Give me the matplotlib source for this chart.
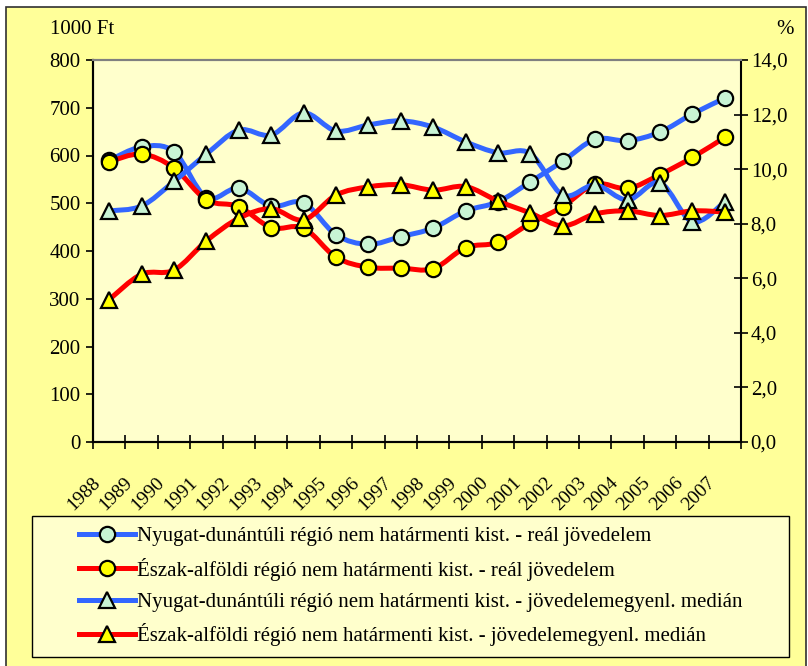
import numpy as np
import matplotlib
matplotlib.use("Agg")
import matplotlib.pyplot as plt
from matplotlib.path import Path
from matplotlib.patches import PathPatch, Rectangle
from matplotlib.lines import Line2D
from matplotlib import transforms

plt.rcParams['font.family'] = ['Liberation Serif', 'DejaVu Serif']

years = [str(y) for y in range(1988, 2008)]
# 1000 Ft, left axis
nyd_real = [590, 618, 608, 512, 532, 494, 501, 434, 414, 430,
            448, 484, 503, 545, 588, 634, 631, 649, 687, 720]
ea_real = [587, 603, 574, 507, 493, 449, 448, 387, 366, 364,
           363, 407, 418, 458, 493, 540, 531, 560, 596, 638]
# %, right axis
nyd_med = [8.47, 8.65, 9.55, 10.55, 11.43, 11.25, 12.06, 11.40, 11.62, 11.77,
           11.54, 11.0, 10.6, 10.57, 9.05, 9.42, 8.87, 9.5, 8.07, 8.8]
ea_med = [5.22, 6.15, 6.3, 7.37, 8.2, 8.55, 8.14, 9.05, 9.35, 9.43,
          9.23, 9.36, 8.83, 8.39, 7.92, 8.36, 8.47, 8.3, 8.47, 8.43]

labels = [
    "Nyugat-dunántúli régió nem határmenti kist. - reál jövedelem",
    "Észak-alföldi régió nem határmenti kist. - reál jövedelem",
    "Nyugat-dunántúli régió nem határmenti kist. - jövedelemegyenl. medián",
    "Észak-alföldi régió nem határmenti kist. - jövedelemegyenl. medián",
]

BLUE = '#3366FF'
RED = '#FF0000'
MINT = '#C8F4D4'
YELLOW = '#FFFF00'
FS = 15


def smooth_path(xs, ys):
    # cubic bezier through the points (catmull-rom style control points)
    xs = np.asarray(xs, float)
    ys = np.asarray(ys, float)
    pts = np.column_stack([xs, ys])
    verts = [pts[0]]
    codes = [Path.MOVETO]
    n = len(pts)
    for i in range(n - 1):
        p0 = pts[max(i - 1, 0)]
        p1 = pts[i]
        p2 = pts[i + 1]
        p3 = pts[min(i + 2, n - 1)]
        c1 = p1 + (p2 - p0) / 6.0
        c2 = p2 - (p3 - p1) / 6.0
        verts += [c1, c2, p2]
        codes += [Path.CURVE4] * 3
    return Path(verts, codes)


W, H = 808, 666
fig = plt.figure(figsize=(W / 100, H / 100), dpi=100, facecolor='white')
fig.patches.append(Rectangle((6 / W, -0.01), 800 / W, 1 - 7 / H + 0.01,
                             transform=fig.transFigure, facecolor='#FFFF99',
                             edgecolor='#303030', linewidth=1.2, zorder=-10))
# legend box
fig.patches.append(Rectangle((32 / W, 1 - 657 / H), 757 / W, 141 / H,
                             transform=fig.transFigure, facecolor='#FFFFCC',
                             edgecolor='black', linewidth=1.0, zorder=-5))

ax = fig.add_axes([93 / W, 1 - 442 / H, 648 / W, 382 / H])
ax.set_facecolor('#FFFFCC')
ax2 = ax.twinx()
ax2.patch.set_visible(False)

x = np.arange(len(years))
series = [
    (ax, nyd_real, BLUE, 'o', MINT),
    (ax, ea_real, RED, 'o', YELLOW),
    (ax2, nyd_med, BLUE, '^', MINT),
    (ax2, ea_med, RED, '^', YELLOW),
]
handles = []
for a, ys, col, mk, fc in series:
    a.add_patch(PathPatch(smooth_path(x, ys), facecolor='none', edgecolor=col,
                          linewidth=3.6, capstyle='round', joinstyle='round'))
    ms = 11 if mk == 'o' else 12
    a.plot(x, ys, linestyle='none', marker=mk, markersize=ms,
           markerfacecolor=fc, markeredgecolor='black', markeredgewidth=1.6)
    handles.append(Line2D([], [], color=col, linewidth=3.6, marker=mk,
                          markersize=ms, markerfacecolor=fc,
                          markeredgecolor='black', markeredgewidth=1.6))

ax.set_xlim(-0.5, len(years) - 0.5)
ax.set_ylim(0, 800)
ax2.set_ylim(0, 14)

ax.set_yticks(np.arange(0, 801, 100))
ax.tick_params(axis='y', direction='out', length=5, width=1.2, labelsize=FS, pad=4)
ax2.set_yticks(np.arange(0, 14.1, 2))
ax2.set_yticklabels([f"{v:.1f}".replace('.', ',') for v in np.arange(0, 14.1, 2)])
ax2.tick_params(axis='y', direction='inout', length=10, width=1.2, labelsize=FS, pad=2)

# ticks on category boundaries, year labels drawn separately
ax.set_xticks(np.arange(-0.5, len(years), 1.0))
ax.set_xticklabels([])
ax.tick_params(axis='x', direction='inout', length=10, width=1.2)
lab_tr = ax.get_xaxis_transform() + transforms.ScaledTranslation(
    -0.18, -0.32, fig.dpi_scale_trans)
for i, yr in enumerate(years):
    ax.text(i, 0, yr, transform=lab_tr, fontsize=14, rotation=45,
            rotation_mode='anchor', ha='right', va='top', clip_on=False)

for a in (ax, ax2):
    a.spines['top'].set_color('#808080')
    a.spines['top'].set_linewidth(1.5)
    a.spines['left'].set_linewidth(1.5)
    a.spines['bottom'].set_linewidth(1.5)
    a.spines['right'].set_linewidth(1.5)
ax.spines['right'].set_visible(False)

fig.text(50 / W, 1 - 30 / H, "1000 Ft", fontsize=FS, ha='left', va='center')
fig.text(785 / W, 1 - 30 / H, "%", fontsize=FS, ha='center', va='center')

leg = fig.legend(handles, labels, loc='center',
                 bbox_to_anchor=((32 + 757 / 2) / W, 1 - (516 + 141 / 2) / H),
                 fontsize=FS, frameon=False,
                 handlelength=2.7, handletextpad=0.1, labelspacing=0.55,
                 borderpad=0.0, borderaxespad=0)

fig.savefig("out.png", dpi=100, facecolor=fig.get_facecolor())
